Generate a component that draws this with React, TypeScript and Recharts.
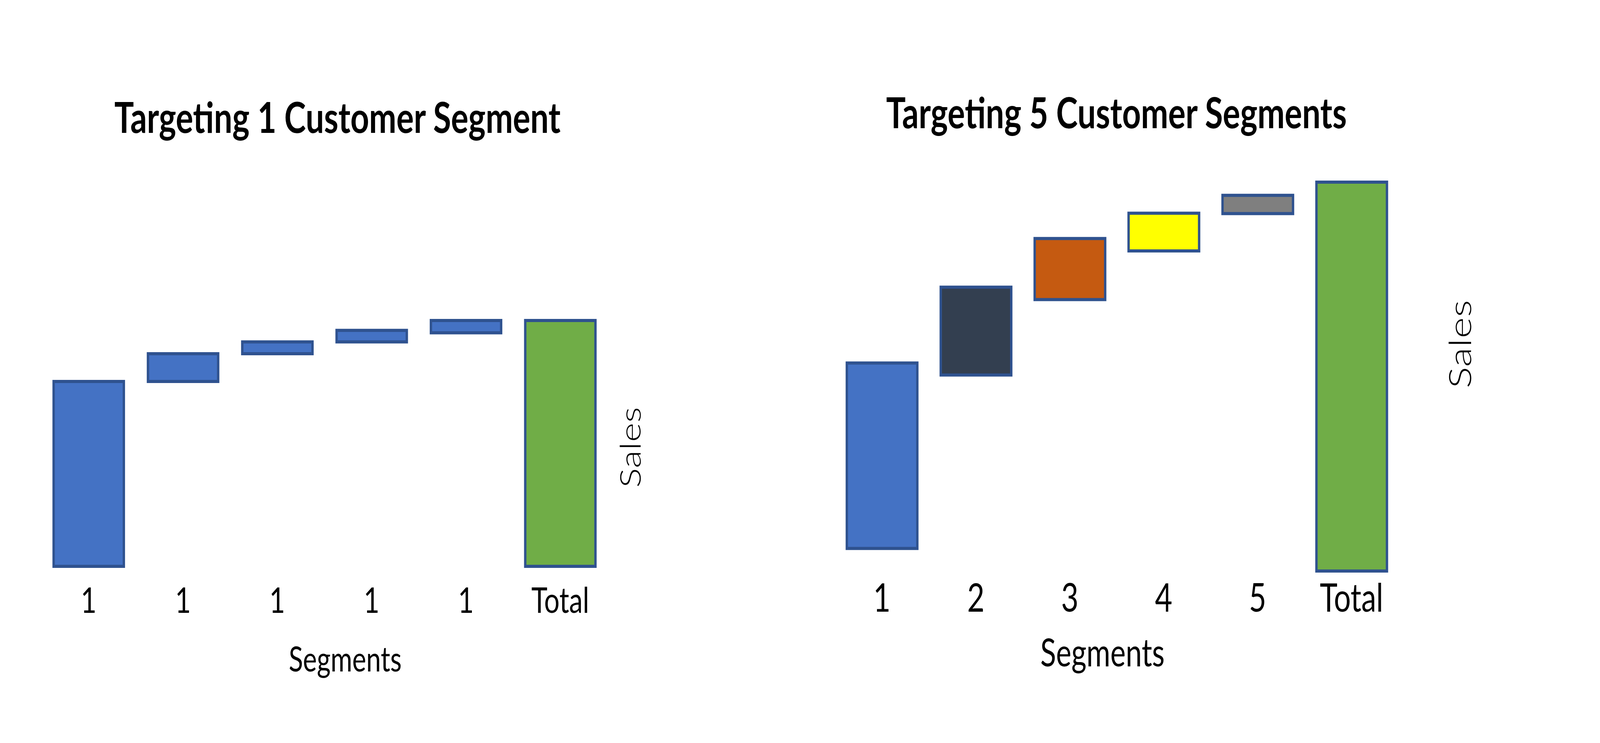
import React from 'react';
import { BarChart, Bar, XAxis, YAxis, Cell } from 'recharts';

// Waterfall comparison: one segment targeted vs five segments targeted.
// Bars are drawn as ranges [low, high] on a 0–100 "Sales" scale.
// The layout is designed on a 5400x1901 canvas and fitted to the window.

const FONT = 'Lato, "Noto Sans", sans-serif';
const OUTLINE = '#2F528F';
const W = 5400;
const H = 1901;

// --- Targeting 1 Customer Segment ---
const oneSegLabels = ['1', '1', '1', '1', '1', 'Total'];
const oneSegLow = [0, 75.2, 86.5, 91.3, 95, 0];
const oneSegHigh = [75.2, 86.5, 91.3, 96, 100, 100];
const oneSegColors = ['#4472C4', '#4472C4', '#4472C4', '#4472C4', '#4472C4', '#70AD47'];

// --- Targeting 5 Customer Segments ---
const fiveSegLabels = ['1', '2', '3', '4', '5', 'Total'];
const fiveSegLow = [5.8, 50.4, 69.8, 82.3, 91.9, 0];
const fiveSegHigh = [53.5, 73.0, 85.5, 92.0, 96.6, 100];
const fiveSegColors = ['#4472C4', '#333F50', '#C55A11', '#FFFF00', '#7F7F7F', '#70AD47'];

interface PanelProps {
  title: string;
  labels: string[];
  low: number[];
  high: number[];
  colors: string[];
  left: number;
  margin: { top: number; right: number; bottom: number; left: number };
  barSize: number;
  titleX: number;
  titleY: number;
  titleSize: number;
  tickSize: number;
  tickDy: number;
  xTitleDx: number;
  xTitleDy: number;
  xTitleSize: number;
  salesDx: number;
  salesDy: number;
  salesSize: number;
}

function WaterfallPanel(p: PanelProps) {
  const data = p.labels.map((label, i) => ({
    key: String(i),
    label,
    range: [p.low[i], p.high[i]],
  }));

  const renderTick = (props: any) => {
    const { x, y, payload } = props;
    const row = data.find((d) => d.key === String(payload.value));
    return (
      <text
        x={x}
        y={y + p.tickDy}
        textAnchor="middle"
        fontFamily={FONT}
        fontSize={p.tickSize}
        fill="#000"
      >
        {row ? row.label : ''}
      </text>
    );
  };

  const renderSegmentsTitle = (props: any) => {
    const vb = props.viewBox || {};
    return (
      <text
        x={vb.x + vb.width / 2 + p.xTitleDx}
        y={vb.y + p.xTitleDy}
        textAnchor="middle"
        fontFamily={FONT}
        fontSize={p.xTitleSize}
        fill="#000"
      >
        Segments
      </text>
    );
  };

  const renderSalesTitle = (props: any) => {
    const vb = props.viewBox || {};
    const cx = vb.x + vb.width / 2 + p.salesDx;
    const cy = vb.y + vb.height / 2 + p.salesDy;
    return (
      <text
        x={cx}
        y={cy}
        transform={`rotate(-90 ${cx} ${cy})`}
        textAnchor="middle"
        dominantBaseline="central"
        fontFamily={FONT}
        fontWeight={300}
        fontSize={p.salesSize}
        fill="#000"
      >
        Sales
      </text>
    );
  };

  return (
    <div style={{ position: 'absolute', left: p.left, top: 0, width: 2700, height: H }}>
      <div
        style={{
          position: 'absolute',
          left: p.titleX - 1200,
          width: 2400,
          top: p.titleY - 0.527 * p.titleSize,
          textAlign: 'center',
          fontFamily: FONT,
          fontWeight: 700,
          fontSize: p.titleSize,
          lineHeight: 1,
          color: '#000',
        }}
      >
        {p.title}
      </div>
      <BarChart width={2700} height={H} data={data} margin={p.margin}>
        <XAxis
          dataKey="key"
          type="category"
          axisLine={false}
          tickLine={false}
          tickSize={0}
          tickMargin={0}
          interval={0}
          height={300}
          tick={renderTick}
          label={renderSegmentsTitle}
        />
        <YAxis
          orientation="right"
          type="number"
          domain={[0, 100]}
          width={150}
          axisLine={false}
          tickLine={false}
          tick={false}
          label={renderSalesTitle}
        />
        <Bar
          dataKey="range"
          barSize={p.barSize}
          stroke={OUTLINE}
          strokeWidth={8}
          isAnimationActive={false}
        >
          {data.map((d, i) => (
            <Cell key={d.key} fill={p.colors[i]} stroke={OUTLINE} strokeWidth={8} />
          ))}
        </Bar>
      </BarChart>
    </div>
  );
}

export default function App() {
  const vw = typeof window !== 'undefined' && window.innerWidth ? window.innerWidth : W;
  const vh = typeof window !== 'undefined' && window.innerHeight ? window.innerHeight : H;
  const sx = vw / W;
  const sy = vh / H;
  return (
    <div
      style={{
        position: 'absolute',
        left: 0,
        top: 0,
        width: vw,
        height: vh,
        overflow: 'hidden',
        background: '#fff',
      }}
    >
      <div
        style={{
          position: 'absolute',
          left: 0,
          top: 0,
          width: W,
          height: H,
          transform: `scale(${sx}, ${sy})`,
          transformOrigin: '0 0',
        }}
      >
        <WaterfallPanel
          title="Targeting 1 Customer Segment"
          labels={oneSegLabels}
          low={oneSegLow}
          high={oneSegHigh}
          colors={oneSegColors}
          left={0}
          margin={{ top: 820, right: 500, bottom: 152, left: 140 }}
          barSize={237}
          titleX={1139}
          titleY={300}
          titleSize={110}
          tickSize={92}
          tickDy={119}
          xTitleDx={70}
          xTitleDy={269}
          xTitleSize={89}
          salesDx={0}
          salesDy={10}
          salesSize={95}
        />
        <WaterfallPanel
          title="Targeting 5 Customer Segments"
          labels={fiveSegLabels}
          low={fiveSegLow}
          high={fiveSegHigh}
          colors={fiveSegColors}
          left={2700}
          margin={{ top: 466, right: 530, bottom: 140, left: 118 }}
          barSize={238}
          titleX={1068}
          titleY={288}
          titleSize={110}
          tickSize={101}
          tickDy={104}
          xTitleDx={-48}
          xTitleDy={244}
          xTitleSize={98}
          salesDx={130}
          salesDy={-83}
          salesSize={104}
        />
      </div>
    </div>
  );
}
